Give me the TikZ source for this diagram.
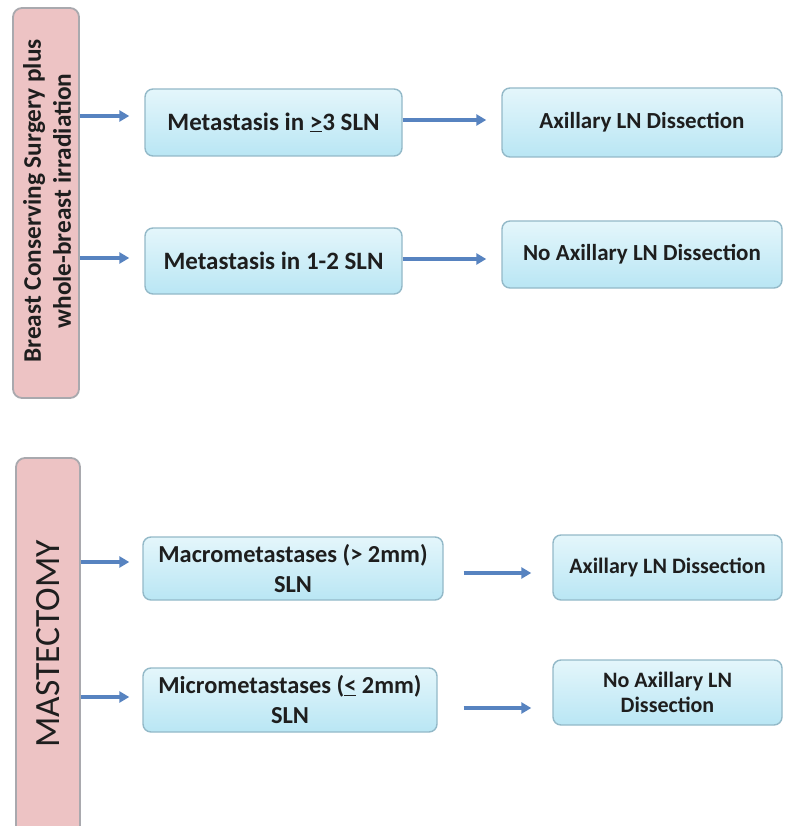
\documentclass[tikz,border=0pt]{standalone}
\usepackage{fontspec}
\setmainfont{Carlito}
\usetikzlibrary{arrows.meta}
\definecolor{pinkfill}{HTML}{EDC3C4}
\definecolor{pinkdraw}{HTML}{A9A9AE}
\definecolor{bluetop}{HTML}{E4F6FB}
\definecolor{bluebot}{HTML}{B9E6F4}
\definecolor{bluedraw}{HTML}{93B9C8}
\definecolor{arrowcol}{HTML}{5783C0}
\definecolor{txt}{HTML}{1E1E1E}
\tikzset{
  x=1pt, y=-1pt,
  sidebox/.style={draw=pinkdraw, line width=1.8pt, fill=pinkfill, rounded corners=9pt, inner sep=0pt},
  stagebox/.style={draw=bluedraw, line width=1.4pt, top color=bluetop, bottom color=bluebot, rounded corners=8pt, inner sep=0pt, align=center, text=txt, font=\bfseries\fontsize{25}{30}\selectfont},
  arr/.style={draw=arrowcol, line width=3.4pt, -{Triangle[length=10pt,width=11pt]}}
}
\begin{document}
\begin{tikzpicture}
\useasboundingbox (0,0) rectangle (784,826);
\clip (0,0) rectangle (784,826);
% side boxes
\node[sidebox, minimum width=66pt, minimum height=390pt] (P1) at (46,203) {};
\node[rotate=90, align=center, text=txt, font=\bfseries\fontsize{25.3}{30}\selectfont] (P1t) at (47,201) {Breast Conserving Surgery plus\\whole-breast irradiation};
\node[sidebox, minimum width=64pt, minimum height=382pt] (P2) at (48,649) {};
\node[rotate=90, text=txt, font=\fontsize{35.5}{40}\selectfont] (P2t) at (48,644) {MASTECTOMY};
% stage boxes
\node[stagebox, minimum width=257pt, minimum height=67pt] (B1) at (273.5,122.5) {Metastasis in \underline{>}3 SLN};
\node[stagebox, minimum width=257pt, minimum height=66pt] (B2) at (273.5,261) {Metastasis in 1-2 SLN};
\node[stagebox, minimum width=280pt, minimum height=69pt, font=\bfseries\fontsize{23}{28}\selectfont] (R1) at (642,122.5) {Axillary LN Dissection};
\node[stagebox, minimum width=280pt, minimum height=67pt, font=\bfseries\fontsize{23}{28}\selectfont] (R2) at (642,254.5) {No Axillary LN Dissection};
\node[stagebox, minimum width=300pt, minimum height=63pt, font=\bfseries\fontsize{24.4}{30}\selectfont] (M1) at (293,568.5) {Macrometastases (> 2mm)\\SLN};
\node[stagebox, minimum width=294pt, minimum height=64pt, font=\bfseries\fontsize{24.4}{30}\selectfont] (M2) at (290,700) {Micrometastases (\underline{<} 2mm)\\SLN};
\node[stagebox, minimum width=229pt, minimum height=65pt, font=\bfseries\fontsize{22}{25.5}\selectfont] (R3) at (667.5,567.5) {Axillary LN Dissection};
\node[stagebox, minimum width=229pt, minimum height=65pt, font=\bfseries\fontsize{22}{25.5}\selectfont] (R4) at (667.5,692.5) {No Axillary LN\\Dissection};
% connectors
\coordinate (c1) at (0,116);
\coordinate (c2) at (0,258);
\coordinate (c3) at (0,120);
\coordinate (c4) at (0,259);
\coordinate (c5) at (0,562);
\coordinate (c6) at (0,697);
\coordinate (c7) at (0,573);
\coordinate (c8) at (0,708);
\draw[arr, shorten >=15pt] (P1.east |- c1) -- (B1.west |- c1);
\draw[arr, shorten >=15pt] (P1.east |- c2) -- (B2.west |- c2);
\draw[arr, shorten >=15pt] (B1.east |- c3) -- (R1.west |- c3);
\draw[arr, shorten >=15pt] (B2.east |- c4) -- (R2.west |- c4);
\draw[arr, shorten >=13pt] (P2.east |- c5) -- (M1.west |- c5);
\draw[arr, shorten >=13pt] (P2.east |- c6) -- (M2.west |- c6);
\draw[arr, shorten <=20pt, shorten >=21pt] (M1.east |- c7) -- (R3.west |- c7);
\draw[arr, shorten <=26pt, shorten >=21pt] (M2.east |- c8) -- (R4.west |- c8);
\end{tikzpicture}
\end{document}
